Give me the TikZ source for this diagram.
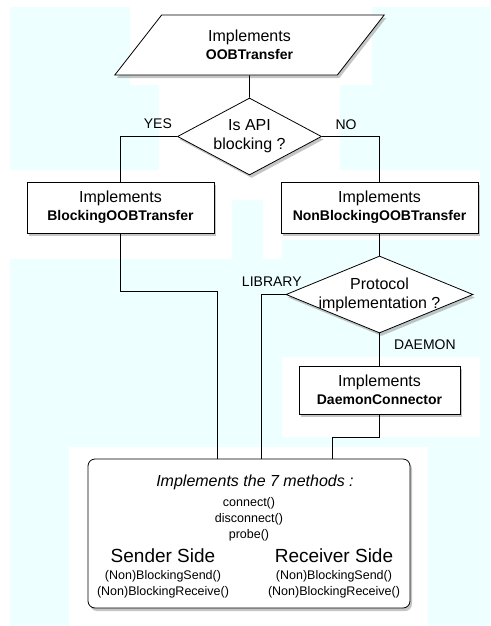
\documentclass[tikz,border=0pt]{standalone}
\usepackage{fontspec}
\setmainfont{Liberation Sans}
\usetikzlibrary{shapes.geometric,shadows}
\definecolor{fondo}{RGB}{238,255,255}
\begin{document}
\begin{tikzpicture}[x=1pt, y=-1pt, line width=0.8pt,
  sombra/.style={drop shadow={opacity=0.45, shadow xshift=2pt, shadow yshift=-3pt}},
  caja/.style={rectangle, draw, fill=white, sombra, inner sep=0pt, align=center, font=\fontsize{16}{18}\selectfont},
  rombo/.style={diamond, draw, fill=white, sombra, inner sep=0pt, aspect=2, align=center, font=\fontsize{16}{19}\selectfont},
  etiqueta/.style={font=\fontsize{14}{16}\selectfont},
  metodo/.style={font=\fontsize{12.5}{16}\selectfont, align=center}]
% Fondo
\useasboundingbox (0,0) rectangle (490,626);
\fill [white] (0,0) rectangle (490,626);
\fill [fondo] (10,7) rectangle (130,170);
\fill [fondo] (130,85) rectangle (159,170);
\fill [fondo] (372,7) rectangle (490,170);
\fill [fondo] (340,85) rectangle (372,170);
\fill [fondo] (480,170) rectangle (490,447);
\fill [fondo] (232,200) rectangle (263,259);
\fill [fondo] (10,259) rectangle (282,447);
\fill [fondo] (282,240) rectangle (480,357);
\fill [fondo] (10,437) rectangle (490,447);
\fill [fondo] (10,447) rectangle (69,626);
\fill [fondo] (428,447) rectangle (490,626);
% Nodos
\node [trapezium, trapezium left angle=52, trapezium right angle=128, draw, fill=white, sombra, inner sep=0pt,
       minimum width=203pt, minimum height=60pt, align=center, font=\fontsize{16}{18}\selectfont] (oob) at (249.5,45)
      {Implements\\{\fontsize{14}{18}\selectfont\bfseries OOBTransfer}};
\node [rombo, minimum width=144pt, minimum height=77pt] (api) at (249.5,136.5) {Is API\\blocking ?};
\node [caja, minimum width=187pt, minimum height=51pt] (bloq) at (120.5,207.5)
      {Implements\\{\fontsize{14}{18}\selectfont\bfseries BlockingOOBTransfer}};
\node [caja, minimum width=197pt, minimum height=51pt] (nobloq) at (379.5,207.5)
      {Implements\\{\fontsize{14}{18}\selectfont\bfseries NonBlockingOOBTransfer}};
\node [rombo, aspect=2.4, inner xsep=-12pt, minimum width=187pt, minimum height=77pt] (proto) at (379.5,294.5)
      {Protocol\\implementation ?};
\node [caja, minimum width=161pt, minimum height=48pt] (daemon) at (379.5,390)
      {Implements\\{\fontsize{14}{18}\selectfont\bfseries DaemonConnector}};
\node [caja, rounded corners=7pt, minimum width=322pt, minimum height=149pt] (metodos) at (249,533.5) {};
% Texto de la caja final
\node [font=\fontsize{16}{18}\selectfont\itshape] (siete) at (255,482) {Implements the 7 methods :};
\node [metodo] (comunes) at (249,519) {connect()\\disconnect()\\probe()};
\node [font=\fontsize{19}{22}\selectfont] (envia) at (163,556) {Sender Side};
\node [font=\fontsize{19}{22}\selectfont] (recibe) at (334,556) {Receiver Side};
\node [metodo] (envia2) at (163,584) {(Non)BlockingSend()\\(Non)BlockingReceive()};
\node [metodo] (recibe2) at (334,584) {(Non)BlockingSend()\\(Non)BlockingReceive()};
% Ejes
\draw (oob) -- (api);
\draw (api.west) -| node [etiqueta, pos=0.17, above=4pt] {YES} (bloq.north);
\draw (api.east) -| node [etiqueta, pos=0.21, above=3pt] {NO} (nobloq.north);
\draw (bloq.south) -- ++(0,58) -| ([xshift=-32pt]metodos.north);
\draw (nobloq) -- (proto);
\draw (proto.west) -| node [etiqueta, pos=0.28, above=4pt] {LIBRARY} ([xshift=12pt]metodos.north);
\draw (proto) -- node [etiqueta, pos=0.36, right=11pt] {DAEMON} (daemon);
\draw (daemon.south) -- ++(0,23) -| ([xshift=83pt]metodos.north);
\end{tikzpicture}
\end{document}
